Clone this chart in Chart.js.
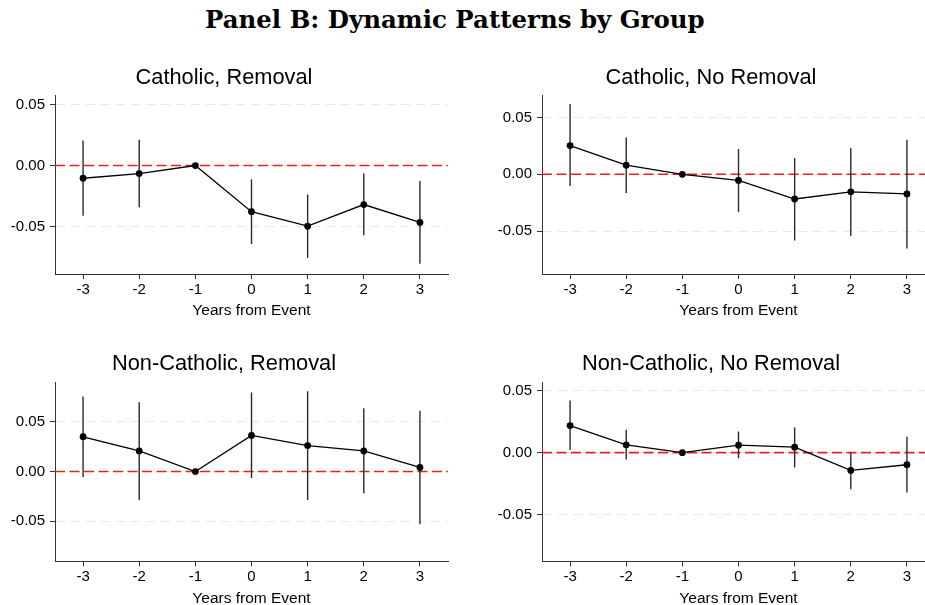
<!DOCTYPE html>
<html>
<head>
<meta charset="utf-8">
<script src="https://cdn.jsdelivr.net/npm/chart.js@4"></script>
<style>
  html, body { margin: 0; padding: 0; background: #fff; width: 925px; height: 605px; overflow: hidden; position: relative; }
  canvas { position: absolute; }
  #mainTitle { position: absolute; white-space: nowrap; font-family: "DejaVu Serif", serif; font-weight: bold; color: #000; line-height: 1; }
</style>
</head>
<body>
<div id="mainTitle">Panel B: Dynamic Patterns by Group</div>
<canvas id="c1" width="460" height="270"></canvas>
<canvas id="c2" width="460" height="270"></canvas>
<canvas id="c3" width="460" height="270"></canvas>
<canvas id="c4" width="460" height="270"></canvas>
<script>
// ---------------- DATA ----------------
const years = [-3, -2, -1, 0, 1, 2, 3];
const xTicks = [-3, -2, -1, 0, 1, 2, 3];
const yTicks = [-0.05, 0, 0.05];
const xRange = [-3.5, 3.5];

const panelTitles = ["Catholic, Removal", "Catholic, No Removal", "Non-Catholic, Removal", "Non-Catholic, No Removal"];
const xAxisTitle = "Years from Event";

const catRemCoef = [-0.0104, -0.0066, 0, -0.0377, -0.0496, -0.0319, -0.0465];
const catRemLo   = [-0.0410, -0.0341, 0, -0.0642, -0.0755, -0.0570, -0.0804];
const catRemHi   = [ 0.0204,  0.0212, 0, -0.0113, -0.0237, -0.0066, -0.0127];

const catNoCoef = [ 0.0253,  0.0080, 0, -0.0054, -0.0218, -0.0155, -0.0173];
const catNoLo   = [-0.0104, -0.0164, 0, -0.0334, -0.0584, -0.0545, -0.0655];
const catNoHi   = [ 0.0619,  0.0324, 0,  0.0223,  0.0143,  0.0232,  0.0304];

const nonRemCoef = [ 0.0350,  0.0207, 0,  0.0363,  0.0261,  0.0207,  0.0041];
const nonRemLo   = [-0.0055, -0.0286, 0, -0.0065, -0.0286, -0.0221, -0.0531];
const nonRemHi   = [ 0.0755,  0.0697, 0,  0.0796,  0.0809,  0.0636,  0.0612];

const nonNoCoef = [ 0.0219,  0.0063, 0,  0.0060,  0.0044, -0.0144, -0.0098];
const nonNoLo   = [ 0.0022, -0.0055, 0, -0.0046, -0.0120, -0.0295, -0.0322];
const nonNoHi   = [ 0.0421,  0.0184, 0,  0.0170,  0.0205,  0.0000,  0.0129];

const yMins = [-0.0887, -0.0879, -0.0905, -0.0880];
const yMaxs = [ 0.0577,  0.0699,  0.0901,  0.0571];

// ---------------- LAYOUT ----------------
const FONT = '"Liberation Sans", Arial, Helvetica, sans-serif';
Chart.defaults.font.family = FONT;
Chart.defaults.color = '#000';

const TITLE_SIZE = 21.8, TICK_SIZE = 15, AXT_SIZE = 15.5, TICKLEN = 5;

const layouts = [
  { id: 'c1', left: 0,   top: 50,  areaTop: 95,  areaBottom: 272, titleMid: 77.5, tickMid: 288.5, xTitleMid: 308.2 },
  { id: 'c2', left: 487, top: 50,  areaTop: 95,  areaBottom: 272, titleMid: 77.5, tickMid: 288.5, xTitleMid: 308.2 },
  { id: 'c3', left: 0,   top: 337, areaTop: 382, areaBottom: 559, titleMid: 364,  tickMid: 575,   xTitleMid: 596.2 },
  { id: 'c4', left: 487, top: 337, areaTop: 382, areaBottom: 559, titleMid: 364,  tickMid: 575,   xTitleMid: 596.2 }
];

const series = [
  [catRemCoef, catRemLo, catRemHi],
  [catNoCoef, catNoLo, catNoHi],
  [nonRemCoef, nonRemLo, nonRemHi],
  [nonNoCoef, nonNoLo, nonNoHi]
];

function build(k) {
  const L = layouts[k];
  const [coef, lo, hi] = series[k];
  const tlh = TITLE_SIZE * 1.2;
  const padTop = L.titleMid - L.top - tlh / 2;
  const titlePadBottom = L.areaTop - L.top - padTop - tlh;
  const tickPad = L.tickMid - L.areaBottom - TICKLEN - TICK_SIZE * 1.2 / 2 - 0.5;
  const B = L.xTitleMid + AXT_SIZE * 1.2 / 2 + 2.2;
  const xtPadTop = Math.max(0, B - 2.2 - L.areaBottom - (TICKLEN + tickPad + TICK_SIZE * 1.2 + AXT_SIZE * 1.2) - 1.8);
  const ch = Math.ceil(B - L.top);
  const padBottom = ch - (B - L.top);

  const cv = document.getElementById(L.id);
  cv.width = 460; cv.height = ch;
  cv.style.left = L.left + 'px'; cv.style.top = L.top + 'px';

  const datasets = [];
  datasets.push({
    type: 'scatter', showLine: true,
    data: years.map((x, i) => ({ x: x, y: coef[i] })),
    borderColor: '#000', backgroundColor: '#000', borderWidth: 1.3,
    pointRadius: 3.4, pointBorderWidth: 0, pointBackgroundColor: '#000',
    order: 0
  });
  years.forEach((x, i) => {
    if (lo[i] === hi[i]) return;
    datasets.push({
      type: 'scatter', showLine: true,
      data: [{ x: x, y: lo[i] }, { x: x, y: hi[i] }],
      borderColor: '#2a2a2a', borderWidth: 1.4, pointRadius: 0,
      order: 1
    });
  });
  datasets.push({
    type: 'scatter', showLine: true,
    data: [{ x: xRange[0], y: 0 }, { x: xRange[1], y: 0 }],
    borderColor: 'rgb(238,30,30)', borderWidth: 1.6, borderDash: [10, 4.5], pointRadius: 0,
    order: 2
  });

  new Chart(cv, {
    type: 'scatter',
    data: { datasets: datasets },
    options: {
      responsive: false, animation: false,
      layout: { padding: { top: padTop, left: 0, right: 12, bottom: padBottom } },
      plugins: {
        legend: { display: false }, tooltip: { enabled: false },
        title: { display: true, text: panelTitles[k], color: '#000',
          font: { size: TITLE_SIZE, weight: 'normal', family: FONT },
          padding: { top: 0, bottom: titlePadBottom } }
      },
      scales: {
        x: {
          type: 'linear', min: xRange[0], max: xRange[1],
          afterBuildTicks: s => { s.ticks = xTicks.map(v => ({ value: v })); },
          ticks: { font: { size: TICK_SIZE }, padding: tickPad, color: '#000', maxRotation: 0,
            callback: v => String(v) },
          grid: { display: true, drawOnChartArea: false, drawTicks: true, tickLength: TICKLEN, tickColor: '#333', tickWidth: 1 },
          border: { display: true, color: '#333', width: 1 },
          title: { display: true, text: xAxisTitle, color: '#000', font: { size: AXT_SIZE }, padding: { top: xtPadTop, bottom: 0 } }
        },
        y: {
          type: 'linear', min: yMins[k], max: yMaxs[k],
          afterBuildTicks: s => { s.ticks = yTicks.map(v => ({ value: v })); },
          afterFit: s => { s.width = 55; },
          ticks: { font: { size: TICK_SIZE }, padding: 5, color: '#000',
            callback: v => (Math.abs(v) < 1e-9 ? 0 : v).toFixed(2) },
          grid: { display: true, drawOnChartArea: true, drawTicks: true, tickLength: TICKLEN,
            color: '#e9e9e9', lineWidth: 1, tickColor: '#333', tickWidth: 1, tickBorderDash: [] },
          border: { display: true, color: '#333', width: 1, dash: [9, 6] }
        }
      }
    }
  });
}

for (let k = 0; k < 4; k++) build(k);

(function () {
  const el = document.getElementById('mainTitle');
  const ctx = document.createElement('canvas').getContext('2d');
  ctx.font = 'bold 100px "DejaVu Serif"';
  const w100 = ctx.measureText(el.textContent).width;
  const size = 100 * 500 / w100;
  el.style.fontSize = size + 'px';
  el.style.left = (455 - 250) + 'px';
  el.style.top = (29 - 0.846 * size) + 'px';
})();
</script>
</body>
</html>
